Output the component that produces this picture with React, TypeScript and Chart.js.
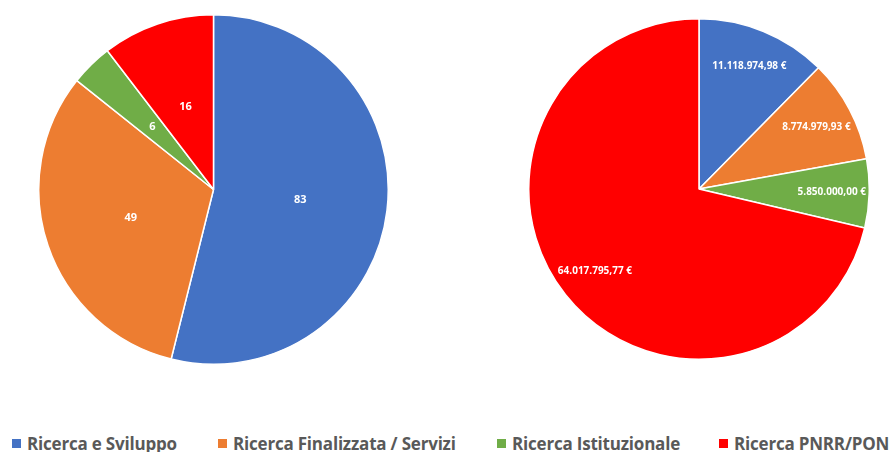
import React, { useEffect, useRef } from "react";
import { Chart, registerables } from "chart.js";

Chart.register(...registerables);

const categories = ["Ricerca e Sviluppo", "Ricerca Finalizzata / Servizi", "Ricerca Istituzionale", "Ricerca PNRR/PON"];
const colors = ["#4472C4", "#ED7D31", "#70AD47", "#FF0000"];
const countValues = [83, 49, 6, 16];
const amountValues = [11118974.98, 8774979.93, 5850000.0, 64017795.77];

const fmtEuro = (v: number) =>
  new Intl.NumberFormat("it-IT", { minimumFractionDigits: 2, maximumFractionDigits: 2 }).format(v) + " €";

function makeLabelPlugin(id: string, factor: number, fontSize: number, fmt: (v: number) => string) {
  return {
    id,
    afterDatasetsDraw(chart: any) {
      const ctx = chart.ctx;
      const meta = chart.getDatasetMeta(0);
      const data = chart.data.datasets[0].data as number[];
      ctx.save();
      ctx.fillStyle = "#FFFFFF";
      ctx.font = `bold ${fontSize}px "Open Sans", "Liberation Sans", sans-serif`;
      ctx.textAlign = "center";
      ctx.textBaseline = "middle";
      meta.data.forEach((arc: any, i: number) => {
        const p = arc.getProps(["x", "y", "startAngle", "endAngle", "outerRadius"], true);
        const mid = (p.startAngle + p.endAngle) / 2;
        const r = p.outerRadius * factor;
        ctx.fillText(fmt(data[i]), p.x + Math.cos(mid) * r, p.y + Math.sin(mid) * r);
      });
      ctx.restore();
    },
  };
}

function PieCanvas(props: { values: number[]; factor: number; fontSize: number; fmt: (v: number) => string; style: any; pid: string }) {
  const ref = useRef<HTMLCanvasElement | null>(null);
  useEffect(() => {
    if (!ref.current) return;
    const chart = new Chart(ref.current, {
      type: "pie",
      data: {
        labels: categories,
        datasets: [
          {
            data: props.values,
            backgroundColor: colors,
            borderColor: "#FFFFFF",
            borderWidth: 1.5,
          },
        ],
      },
      options: {
        responsive: false,
        animation: false,
        layout: { padding: 0 },
        plugins: { legend: { display: false }, tooltip: { enabled: false } },
      },
      plugins: [makeLabelPlugin(props.pid, props.factor, props.fontSize, props.fmt)],
    });
    return () => chart.destroy();
  }, []);
  return <canvas ref={ref} width={props.style.width} height={props.style.height} style={{ position: "absolute", ...props.style }} />;
}

export default function App() {
  return (
    <div style={{ position: "fixed", left: 0, top: 0, width: 893, height: 452, background: "#FFFFFF", overflow: "hidden" }}>
      <PieCanvas pid="lblL" values={countValues} factor={0.5} fontSize={11} fmt={(v) => String(v)} style={{ left: 38, top: 14, width: 351, height: 351 }} />
      <PieCanvas pid="lblR" values={amountValues} factor={0.78} fontSize={10} fmt={fmtEuro} style={{ left: 528, top: 18, width: 342, height: 342 }} />
      {categories.map((c, i) => {
        const lefts = [12, 218, 497, 719];
        return (
          <div key={c} style={{ position: "absolute", left: lefts[i], top: 432, height: 22, display: "flex", alignItems: "center", whiteSpace: "nowrap" }}>
            <span style={{ display: "inline-block", width: 9, height: 9, background: colors[i], marginRight: 6 }} />
            <span style={{ font: 'bold 17px "Liberation Sans Narrow", "Open Sans", sans-serif', color: "#595959", letterSpacing: "-0.2px" }}>{c}</span>
          </div>
        );
      })}
    </div>
  );
}
